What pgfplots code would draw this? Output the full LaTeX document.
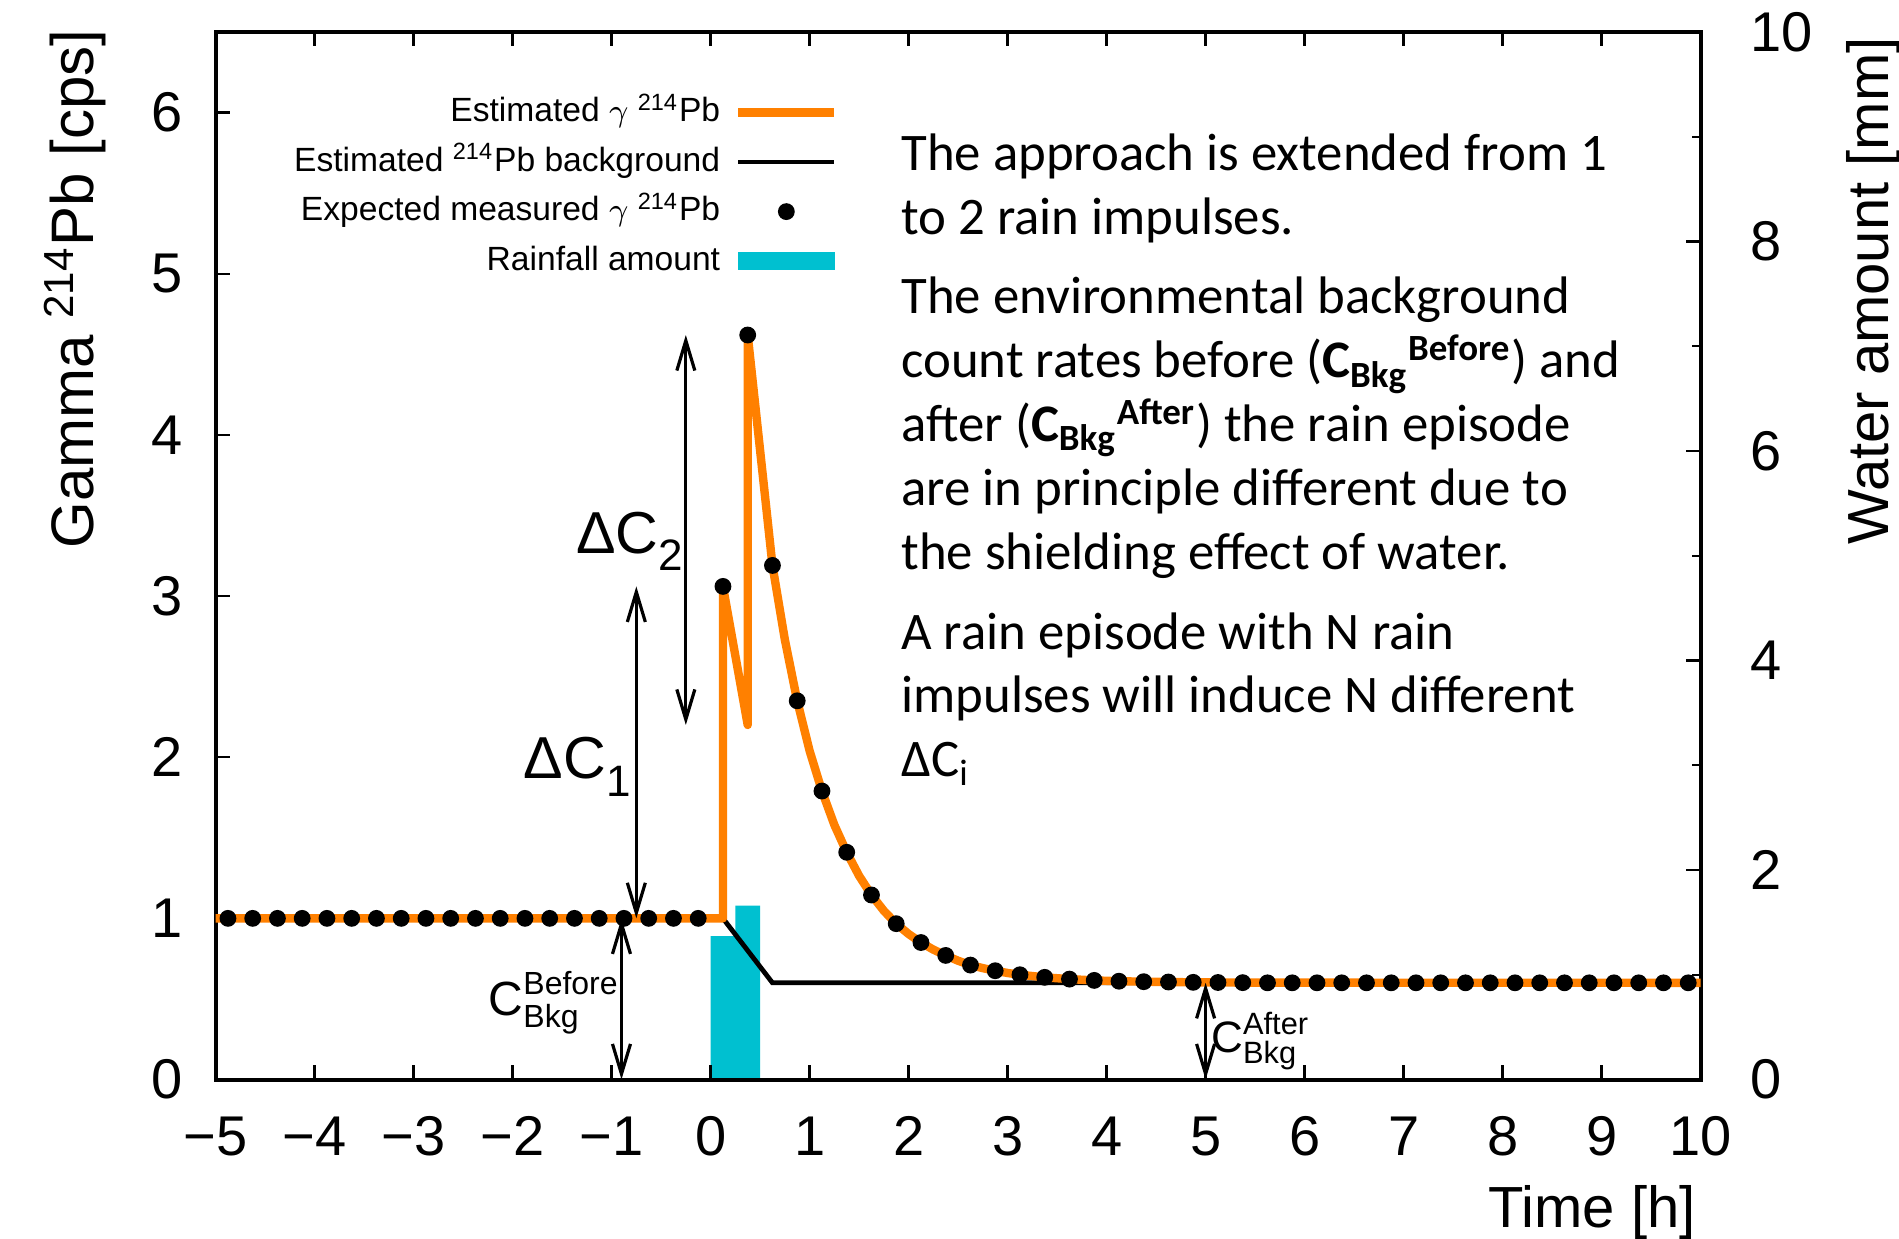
\documentclass[border=0pt]{standalone}
\usepackage{fontspec}
\setmainfont{Liberation Sans}
\newfontfamily\carlito{Carlito}
\usepackage{amsmath}
\usepackage{pgfplots}
\usepackage{pgfplotstable}
\pgfplotsset{compat=1.18}
\usetikzlibrary{arrows.meta}

\definecolor{pborange}{RGB}{255,128,0}
\definecolor{rain}{RGB}{0,192,208}

% estimated gamma 214Pb count rate (two rain impulses at 0.125 h and 0.375 h)
\pgfplotstableread{
x y
-5 1
0.125 1
0.125 3.06
0.375 2.20
0.375 4.62
0.625 3.19
0.75 2.73
0.875 2.35
1.0 2.04
1.125 1.79
1.25 1.58
1.375 1.41
1.5 1.264
1.625 1.145
1.75 1.047
1.875 0.967
2.0 0.903
2.125 0.85
2.25 0.806
2.375 0.77
2.5 0.737
2.625 0.71
2.75 0.691
2.875 0.675
3.0 0.661
3.125 0.65
3.375 0.634
3.625 0.623
3.875 0.615
4.125 0.61
4.375 0.607
4.625 0.605
4.875 0.603
5.5 0.601
10 0.6
}\esttab

% estimated background
\pgfplotstableread{
x y
-5 1
0.125 1
0.625 0.6
10 0.6
}\bkgtab

% expected measured count rate, 15 min bins
\pgfplotstableread{
x y
-4.875 1
-4.625 1
-4.375 1
-4.125 1
-3.875 1
-3.625 1
-3.375 1
-3.125 1
-2.875 1
-2.625 1
-2.375 1
-2.125 1
-1.875 1
-1.625 1
-1.375 1
-1.125 1
-0.875 1
-0.625 1
-0.375 1
-0.125 1
0.125 3.06
0.375 4.62
0.625 3.19
0.875 2.35
1.125 1.79
1.375 1.41
1.625 1.145
1.875 0.967
2.125 0.85
2.375 0.77
2.625 0.71
2.875 0.675
3.125 0.65
3.375 0.634
3.625 0.623
3.875 0.615
4.125 0.61
4.375 0.607
4.625 0.605
4.875 0.603
5.125 0.602
5.375 0.601
5.625 0.6
5.875 0.6
6.125 0.6
6.375 0.6
6.625 0.6
6.875 0.6
7.125 0.6
7.375 0.6
7.625 0.6
7.875 0.6
8.125 0.6
8.375 0.6
8.625 0.6
8.875 0.6
9.125 0.6
9.375 0.6
9.625 0.6
9.875 0.6
}\dottab

% rainfall per 15 min interval [mm]
\pgfplotstableread{
x y
0 1.37
0.25 1.66
0.5 1.66
}\raintab

\begin{document}
\begin{tikzpicture}
\pgfplotsset{every tick/.style={black, line width=0.6pt}}

% rainfall, right-hand axis (drawn first so it stays behind the curves)
\begin{axis}[
  name=rainax,
  scale only axis, width=371.3pt, height=261.9pt,
  xmin=-5, xmax=10, ymin=0, ymax=10,
  axis x line=none, axis y line*=right,
  axis line style={line width=1pt},
  xtick=\empty,
  ytick={0,2,...,10}, minor ytick={1,3,...,9},
  tick align=inside, major tick length=3.75pt, minor tick length=2.1pt,
  /pgf/number format/assume math mode=true,
  yticklabel style={font=\fontsize{14}{16}\selectfont, anchor=west, xshift=9pt},
  every axis y label/.style={at={(rel axis cs:1,0.9956)}, xshift=47pt, rotate=90,
    anchor=base east, inner sep=0pt, font=\fontsize{14.5}{17}\selectfont},
  ylabel={Water amount [mm]},
]
\addplot[ybar interval, fill=rain, draw=none] table {\raintab};
\end{axis}

% count rates, left-hand axis
\begin{axis}[
  name=main,
  scale only axis, width=371.3pt, height=261.9pt,
  xmin=-5, xmax=10, ymin=0, ymax=6.5,
  clip=false,
  axis line style={line width=1pt},
  tick align=inside, major tick length=3.6pt,
  xtick={-5,...,10},
  xticklabels={−5,−4,−3,−2,−1,0,1,2,3,4,5,6,7,8,9,10},
  ytick={0,...,6}, ytick pos=left,
  /pgf/number format/assume math mode=true,
  xticklabel style={font=\fontsize{14}{16}\selectfont, yshift=-5.8pt},
  yticklabel style={font=\fontsize{14}{16}\selectfont, xshift=-4.6pt},
  every axis y label/.style={at={(rel axis cs:0,1.003)}, xshift=-30.4pt, rotate=90,
    anchor=base east, inner sep=0pt, font=\fontsize{15}{17}\selectfont},
  ylabel={Gamma \textsuperscript{214}Pb [cps]},
  every axis x label/.style={at={(rel axis cs:1,0)}, yshift=-37pt, xshift=-1pt,
    anchor=base east, inner sep=0pt, font=\fontsize{14.5}{17}\selectfont},
  xlabel={Time [h]},
  legend plot pos=right,
  legend cell align=right,
  legend style={at={(0.4195,0.9395)}, anchor=north east, draw=none, fill=none,
    inner sep=0pt, outer sep=0pt, row sep=3.9pt, column sep=3.5pt,
    nodes={inner sep=0pt, text height=6.5pt, text depth=2pt,
      font=\fontsize{8.4}{10}\selectfont}},
]
\addplot[black, line width=1.2pt, forget plot] table {\bkgtab};
\addplot[pborange, line width=2.1pt, line join=round, forget plot] table {\esttab};
\addplot[only marks, mark=*, mark size=1.9pt, black, forget plot] table {\dottab};

\addlegendimage{legend image code/.code={\path[draw=none] (0pt,0pt) -- (24pt,0pt);
  \draw[pborange, line width=2.1pt] (0pt,0pt) -- (24pt,0pt);}}
\addlegendentry{Estimated $\gamma$ \textsuperscript{214}Pb}
\addlegendimage{legend image code/.code={\path[draw=none] (0pt,0pt) -- (24pt,0pt);
  \draw[black, line width=1.2pt] (0pt,0pt) -- (24pt,0pt);}}
\addlegendentry{Estimated \textsuperscript{214}Pb background}
\addlegendimage{legend image code/.code={\path[draw=none] (0pt,0pt) -- (24pt,0pt);
  \fill[black] (12pt,0pt) circle (1.9pt);}}
\addlegendentry{Expected measured $\gamma$ \textsuperscript{214}Pb}
\addlegendimage{legend image code/.code={\path[draw=none] (0pt,0pt) -- (24pt,0pt);
  \fill[rain] (0pt,-2.1pt) rectangle (24pt,2.1pt);}}
\addlegendentry{Rainfall amount}

% annotations
\tikzset{dblarrow/.style={{Straight Barb[length=7.5pt,width=4.5pt]}-{Straight Barb[length=7.5pt,width=4.5pt]}, line width=0.8pt}}
\draw[dblarrow] (axis cs:-0.75,1) -- (axis cs:-0.75,3.06);
\draw[dblarrow] (axis cs:-0.25,2.2) -- (axis cs:-0.25,4.62);
\draw[dblarrow] (axis cs:-0.9,0) -- (axis cs:-0.9,1);
\draw[dblarrow] (axis cs:5,0) -- (axis cs:5,0.6);

\node[anchor=base east, inner sep=0pt, font=\fontsize{14.8}{17}\selectfont]
  at (axis cs:-0.8,1.865) {ΔC\raisebox{-0.3em}{\fontsize{11}{12}\selectfont 1}};
\node[anchor=base east, inner sep=0pt, font=\fontsize{14.8}{17}\selectfont]
  at (axis cs:-0.27,3.266) {ΔC\raisebox{-0.3em}{\fontsize{11}{12}\selectfont 2}};
\node[anchor=base east, inner sep=0pt, font=\fontsize{12}{14}\selectfont]
  at (axis cs:-0.91,0.397) {$\text{C}^{\text{Before}}_{\text{Bkg}}$};
\node[anchor=base west, inner sep=0pt, font=\fontsize{11}{13}\selectfont]
  at (axis cs:5.05,0.17) {$\text{C}^{\text{After}}_{\text{Bkg}}$};

\node[anchor=north west, inner sep=0pt, align=left,
  font=\carlito\fontsize{13.2}{15.96}\selectfont] at (axis cs:1.92,5.875)
  {The approach is extended from 1\\
   to 2 rain impulses.\\[4pt]
   The environmental background\\
   count rates before (\textbf{C\textsubscript{Bkg}\textsuperscript{Before}}) and\\
   after (\textbf{C\textsubscript{Bkg}\textsuperscript{After}}) the rain episode\\
   are in principle different due to\\
   the shielding effect of water.\\[4pt]
   A rain episode with N rain\\
   impulses will induce N different\\
   ΔC\textsubscript{i}};
\end{axis}

\pgfresetboundingbox
\path ([xshift=-53.9pt,yshift=-39.82pt]main.south west)
  rectangle ([xshift=49.6pt,yshift=8.02pt]main.north east);
\end{tikzpicture}
\end{document}
